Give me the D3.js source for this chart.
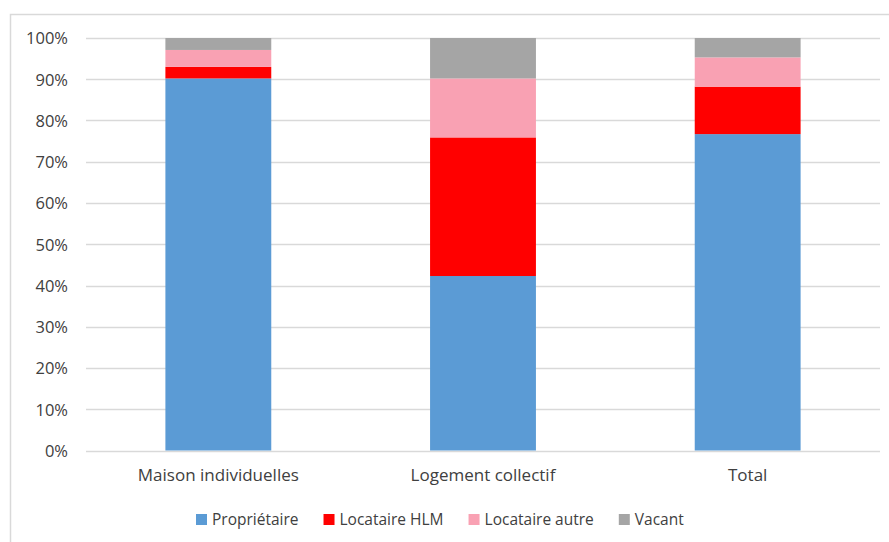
<!DOCTYPE html>
<html><head><meta charset="utf-8">
<script src="https://cdn.jsdelivr.net/npm/d3@7"></script>
<style>body{margin:0;background:#fff}svg{display:block}text{font-family:"Open Sans","Noto Sans",sans-serif;fill:#404040}</style>
</head><body><svg id="c" width="889" height="542"></svg>
<script>
const categories = ["Maison individuelles", "Logement collectif", "Total"];
const seriesNames = ["Propriétaire", "Locataire HLM", "Locataire autre", "Vacant"];
const proprietaire = [90.2, 42.3, 76.7];
const locataireHLM = [2.8, 33.6, 11.5];
const locataireAutre = [4.1, 14.3, 7.1];
const vacant = [2.9, 9.8, 4.7];
const tickValues = [0, 10, 20, 30, 40, 50, 60, 70, 80, 90, 100];
const colors = ["#5b9bd5", "#ff0000", "#f9a1b3", "#a5a5a5"];

const rows = categories.map((c, i) => ({cat: c, "Propriétaire": proprietaire[i], "Locataire HLM": locataireHLM[i], "Locataire autre": locataireAutre[i], "Vacant": vacant[i]}));
const stacked = d3.stack().keys(seriesNames)(rows);

const svg = d3.select("#c");
const m = {left: 86, right: 880, top: 38, bottom: 450.5};
svg.append("rect").attr("x", 10.5).attr("y", 14.5).attr("width", 900).attr("height", 600)
  .attr("fill", "none").attr("stroke", "#d9d9d9").attr("stroke-width", 1.5);

const x = d3.scaleBand().domain(categories).range([m.left, m.right]).paddingInner(0.6).paddingOuter(0.3);
const y = d3.scaleLinear().domain([0, 100]).range([m.bottom, m.top]);

const grid = svg.append("g");
grid.selectAll("line").data(tickValues).join("line")
  .attr("x1", m.left).attr("x2", m.right)
  .attr("y1", d => Math.round(y(d)) + 0.5).attr("y2", d => Math.round(y(d)) + 0.5)
  .attr("stroke", "#d9d9d9").attr("stroke-width", 1.3);

const yAxis = d3.axisLeft(y).tickValues(tickValues).tickFormat(d => d + "%").tickSize(0).tickPadding(18);
const ya = svg.append("g").attr("transform", `translate(${m.left},0)`).call(yAxis);
ya.select(".domain").remove();
ya.selectAll("text").attr("font-size", 16.5).style("font-family", "'Open Sans','Noto Sans',sans-serif").attr("fill", "#404040").attr("dy", "0.35em");

svg.append("g").selectAll("g").data(stacked).join("g")
  .attr("fill", (d, i) => colors[i])
  .selectAll("rect").data(d => d).join("rect")
  .attr("x", d => x(d.data.cat)).attr("width", x.bandwidth())
  .attr("y", d => y(d[1])).attr("height", d => y(d[0]) - y(d[1]));

const xAxis = d3.axisBottom(x).tickSize(0).tickPadding(18);
const xa = svg.append("g").attr("transform", `translate(0,${m.bottom})`).call(xAxis);
xa.select(".domain").remove();
xa.selectAll("text").attr("font-size", 17).style("font-family", "'Open Sans','Noto Sans',sans-serif").attr("fill", "#404040");

const legend = svg.append("g");
let lx = 196;
seriesNames.forEach((n, i) => {
  legend.append("rect").attr("x", lx).attr("y", 514).attr("width", 11).attr("height", 11).attr("fill", colors[i]);
  const t = legend.append("text").attr("x", lx + 16).attr("y", 519.5).attr("dy", "0.35em")
    .attr("font-size", 15.5).text(n);
  lx += 16 + t.node().getComputedTextLength() + 25;
});
</script></body></html>
